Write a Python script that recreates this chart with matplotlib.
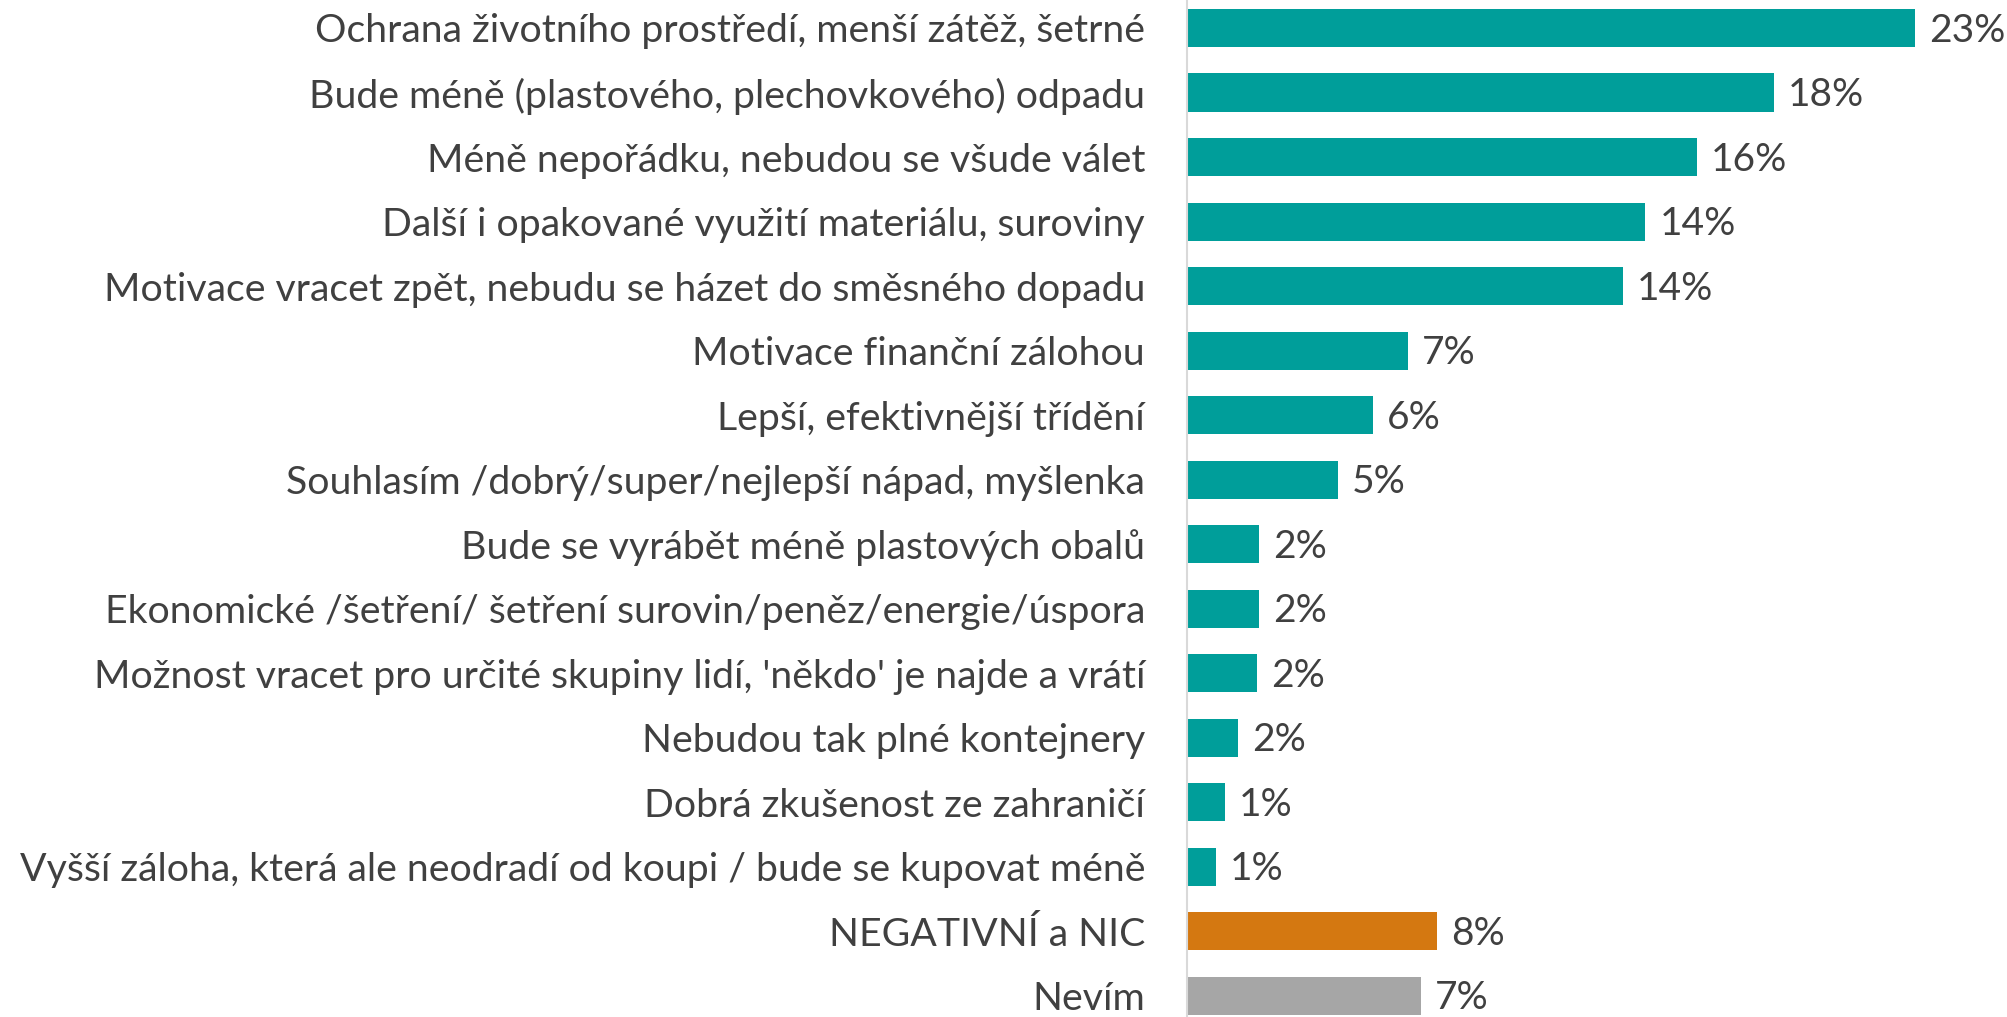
import matplotlib
matplotlib.use("Agg")
import matplotlib.pyplot as plt

plt.rcParams["font.family"] = ["Lato", "DejaVu Sans"]

labels = [
    "Ochrana životního prostředí, menší zátěž, šetrné",
    "Bude méně (plastového, plechovkového) odpadu",
    "Méně nepořádku, nebudou se všude válet",
    "Další i opakované využití materiálu, suroviny",
    "Motivace vracet zpět, nebudu se házet do směsného dopadu",
    "Motivace finanční zálohou",
    "Lepší, efektivnější třídění",
    "Souhlasím /dobrý/super/nejlepší nápad, myšlenka",
    "Bude se vyrábět méně plastových obalů",
    "Ekonomické /šetření/ šetření surovin/peněz/energie/úspora",
    "Možnost vracet pro určité skupiny lidí, 'někdo' je najde a vrátí",
    "Nebudou tak plné kontejnery",
    "Dobrá zkušenost ze zahraničí",
    "Vyšší záloha, která ale neodradí od koupi / bude se kupovat méně",
    "NEGATIVNÍ a NIC",
    "Nevím",
]
values = [22.7, 18.3, 15.9, 14.3, 13.6, 6.9, 5.8, 4.7, 2.25, 2.25, 2.2, 1.6, 1.2, 0.9, 7.8, 7.3]
shown = ["23%", "18%", "16%", "14%", "14%", "7%", "6%", "5%", "2%", "2%", "2%", "2%", "1%", "1%", "8%", "7%"]

teal = "#009E9A"
colors = [teal] * 14 + ["#D47811", "#A6A6A6"]
text_color = "#404040"

fig = plt.figure(figsize=(20.08, 10.17), dpi=100)
ax = fig.add_axes([0.591, 0.0, 0.409, 1.0])

y = list(range(len(labels)))
bars = ax.barh(y, values, height=0.59, color=colors)

for rect, txt in zip(bars, shown):
    ax.annotate(txt, (rect.get_width(), rect.get_y() + rect.get_height() / 2),
                xytext=(10, -2), textcoords="offset points",
                ha="left", va="center", fontsize=28, color=text_color)

ax.set_yticks(y)
ax.set_yticklabels(labels, fontsize=28.3, color=text_color)
ax.tick_params(axis="y", length=0, pad=30)
ax.set_xticks([])
ax.set_xlim(0, 25.6)
ax.set_ylim(15.33, -0.434)

for s in ["top", "right", "bottom"]:
    ax.spines[s].set_visible(False)
ax.spines["left"].set_color("#D9D9D9")
ax.spines["left"].set_linewidth(1.5)

fig.savefig("out.png", dpi=100)
